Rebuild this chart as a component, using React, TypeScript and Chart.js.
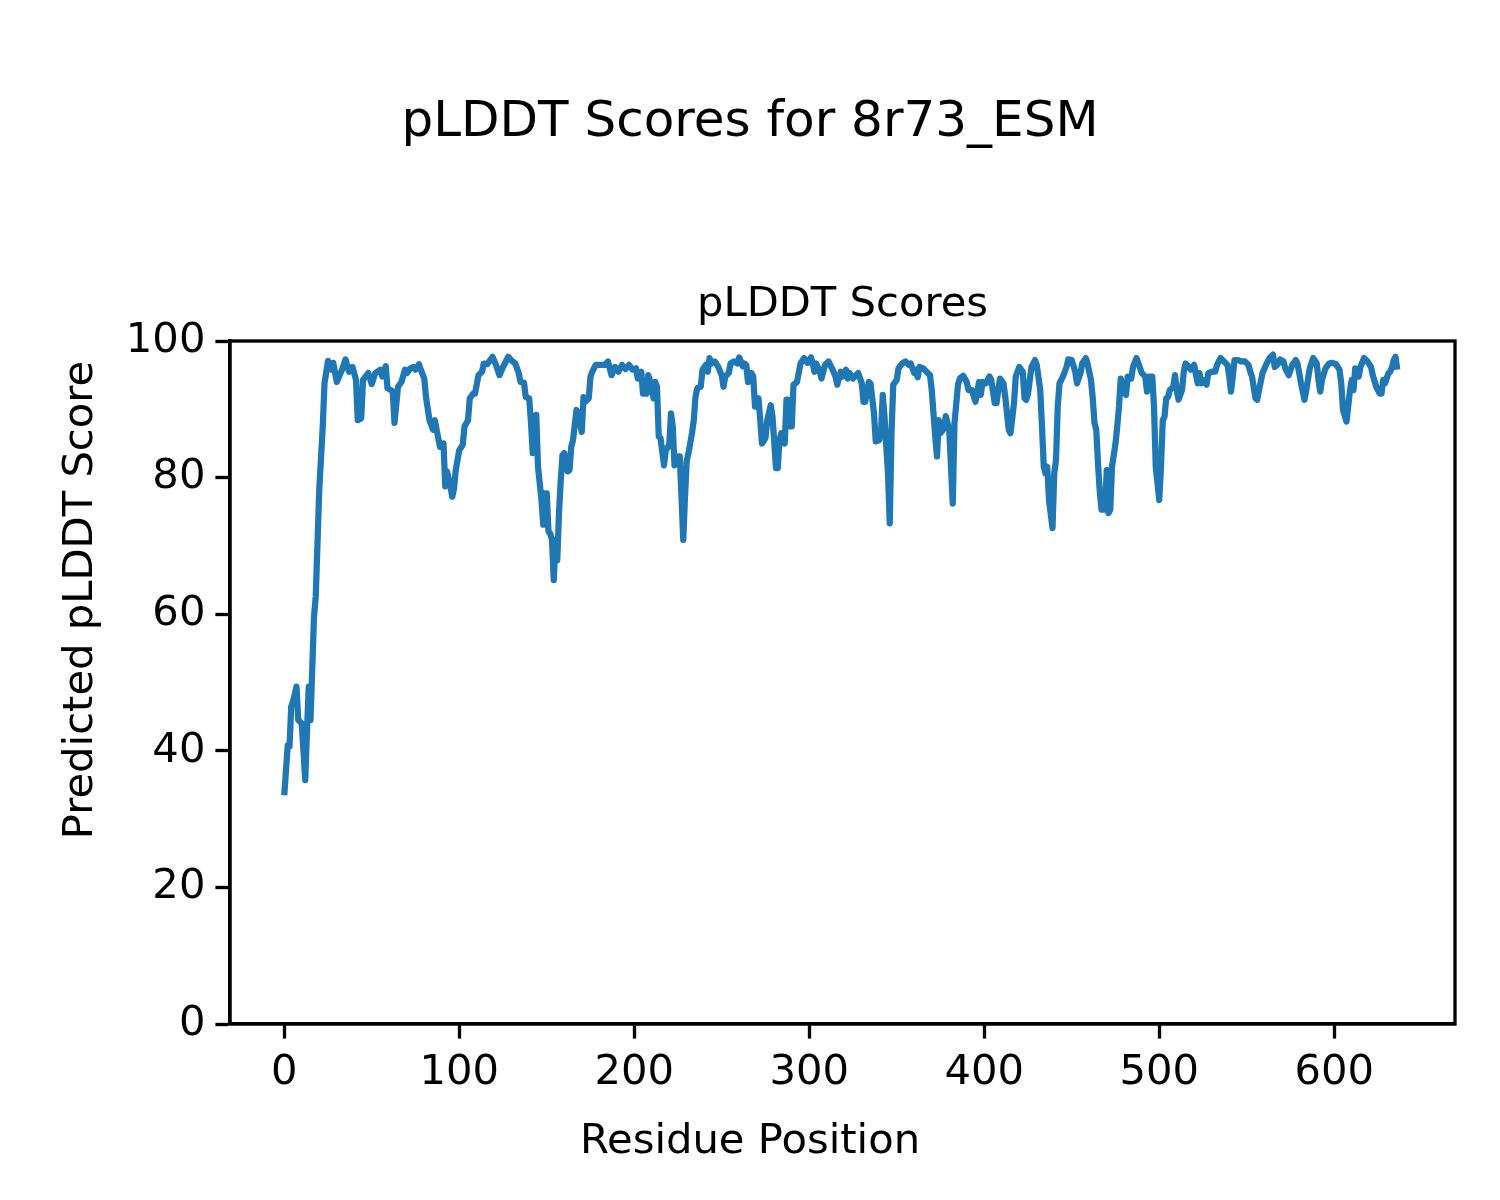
import React, { useEffect, useRef } from 'react';
import { Chart, registerables } from 'chart.js';

Chart.register(...registerables);

const residues = [
  0, 2, 3, 4, 5, 7, 8, 10, 12, 13, 14, 15, 17, 18, 20, 22, 23, 25, 27, 28, 30, 33, 35, 37, 39, 41, 42, 44, 45, 48,
  50, 52, 55, 56, 58, 59, 61, 62, 63, 65, 67, 69, 70, 72, 74, 75, 77, 78, 80, 81, 83, 85, 86, 88, 89, 91, 92, 93, 95, 96,
  97, 98, 100, 102, 103, 105, 106, 108, 109, 111, 113, 114, 116, 119, 121, 123, 125, 128, 130, 132, 134, 135, 137, 138, 140, 141, 142, 143, 144, 145,
  147, 148, 149, 150, 151, 152, 153, 154, 155, 156, 157, 158, 159, 160, 162, 163, 164, 165, 167, 168, 170, 171, 172, 174, 175, 176, 178, 181, 183, 185,
  187, 189, 191, 193, 195, 197, 199, 201, 202, 204, 205, 207, 208, 210, 211, 212, 213, 214, 215, 217, 218, 220, 221, 222, 223, 225, 226, 227, 228, 229,
  230, 231, 233, 234, 235, 236, 238, 239, 241, 242, 243, 244, 246, 248, 250, 251, 252, 254, 255, 257, 259, 260, 262, 263, 264, 265, 267, 268, 269, 270,
  271, 272, 273, 275, 276, 278, 279, 281, 282, 283, 284, 286, 287, 288, 289, 290, 291, 293, 295, 297, 299, 301, 302, 303, 304, 306, 307, 309, 311, 313,
  315, 316, 318, 319, 321, 322, 323, 325, 326, 328, 330, 331, 332, 334, 335, 337, 338, 340, 341, 342, 343, 345, 346, 347, 348, 350, 351, 353, 355, 357,
  358, 360, 361, 362, 363, 365, 367, 369, 370, 371, 372, 373, 374, 375, 377, 378, 380, 381, 382, 383, 385, 386, 388, 390, 391, 393, 394, 395, 397, 398,
  399, 401, 403, 404, 406, 407, 408, 409, 411, 412, 414, 415, 417, 418, 420, 422, 423, 424, 425, 427, 429, 430, 432, 433, 434, 435, 436, 437, 439, 440,
  441, 442, 443, 445, 447, 448, 450, 452, 453, 455, 456, 458, 459, 461, 462, 463, 464, 465, 466, 467, 469, 470, 471, 472, 473, 475, 476, 477, 478, 480,
  481, 482, 484, 485, 487, 488, 490, 492, 493, 494, 496, 497, 498, 500, 501, 502, 503, 504, 505, 506, 508, 509, 510, 511, 513, 514, 515, 517, 518, 520,
  521, 522, 523, 524, 525, 527, 528, 530, 532, 533, 535, 537, 539, 540, 541, 542, 543, 545, 547, 549, 551, 552, 553, 555, 556, 557, 559, 561, 563, 565,
  566, 568, 569, 571, 572, 574, 576, 578, 579, 580, 581, 583, 584, 586, 588, 590, 591, 592, 593, 595, 597, 599, 601, 603, 604, 605, 607, 609, 610, 611,
  612, 614, 615, 617, 619, 621, 622, 624, 626, 627, 628, 629, 631, 632, 633, 634, 635, 636,
];

const scores = [
  33.5, 40.8, 40.6, 46.5, 47.2, 49.4, 44.5, 44.0, 35.7, 43.0, 49.4, 44.5, 59.6, 62.6, 78.2, 87.5, 93.8, 97.1, 95.8, 96.8, 94.0, 95.8, 97.3, 95.5, 96.2, 94.3, 88.4, 88.7, 94.3, 95.3,
  93.7, 95.3, 95.8, 94.8, 96.3, 93.1, 92.8, 92.6, 88.0, 93.3, 94.0, 95.8, 95.3, 96.0, 96.2, 95.8, 96.6, 95.8, 94.5, 91.8, 88.4, 87.0, 88.4, 85.8, 84.5, 85.0, 78.7, 80.9, 78.7, 77.2,
  78.4, 81.1, 84.0, 84.8, 87.5, 88.4, 91.6, 92.3, 92.3, 95.0, 95.5, 96.7, 96.6, 97.7, 96.5, 95.0, 96.2, 97.7, 97.1, 96.7, 95.3, 94.0, 93.9, 91.8, 91.6, 88.0, 83.6, 86.5, 89.2, 81.6,
  76.7, 73.1, 77.7, 77.7, 72.1, 71.8, 70.9, 65.0, 70.9, 67.9, 74.8, 79.6, 83.3, 83.6, 80.9, 81.1, 84.5, 85.5, 89.9, 89.4, 86.7, 91.8, 91.1, 91.6, 94.8, 95.5, 96.5, 96.5, 96.5, 97.0,
  95.0, 96.2, 95.5, 96.5, 95.9, 96.5, 95.8, 96.0, 94.5, 95.5, 92.3, 92.3, 95.0, 93.3, 91.6, 94.0, 93.3, 86.0, 85.8, 81.8, 84.0, 84.8, 89.4, 87.5, 81.8, 83.1, 83.1, 77.2, 70.9, 77.2,
  82.5, 83.6, 86.5, 88.4, 91.8, 93.1, 93.3, 95.8, 96.5, 95.5, 97.5, 96.7, 97.0, 96.2, 95.0, 93.3, 94.8, 95.3, 96.7, 97.0, 96.7, 97.6, 96.3, 96.7, 96.5, 94.0, 95.3, 94.8, 90.4, 90.4,
  91.6, 88.4, 85.0, 85.8, 88.4, 90.6, 88.9, 81.4, 81.4, 85.5, 86.5, 85.0, 91.4, 91.4, 87.5, 87.5, 93.6, 94.0, 96.7, 97.5, 96.8, 97.6, 96.7, 95.5, 96.7, 95.5, 94.5, 96.5, 97.0, 96.0,
  94.8, 93.6, 95.5, 94.8, 95.8, 94.5, 95.3, 94.5, 94.8, 95.3, 93.8, 91.1, 91.1, 94.0, 93.8, 89.4, 85.3, 85.5, 86.5, 92.1, 88.9, 80.6, 73.3, 86.5, 93.6, 94.3, 96.0, 96.7, 97.0, 96.5,
  96.7, 95.3, 95.8, 94.7, 96.2, 96.0, 95.5, 95.0, 92.8, 89.4, 86.0, 83.1, 88.4, 86.5, 87.2, 89.0, 87.0, 81.6, 76.2, 88.0, 93.6, 94.5, 94.9, 94.0, 92.8, 92.8, 91.9, 91.1, 94.0, 92.1,
  94.0, 93.8, 94.8, 94.3, 90.9, 90.9, 92.8, 94.5, 93.8, 91.8, 87.0, 86.5, 90.9, 94.8, 96.2, 95.5, 91.6, 91.4, 92.3, 96.2, 97.2, 96.5, 92.8, 87.5, 81.6, 80.6, 81.6, 76.7, 72.6, 80.6,
  82.6, 90.4, 93.8, 94.8, 96.2, 97.3, 97.2, 95.5, 93.8, 95.3, 96.7, 97.5, 96.7, 94.3, 91.6, 88.0, 87.0, 82.1, 78.0, 75.3, 75.3, 81.1, 74.8, 75.3, 81.6, 85.0, 87.5, 90.4, 94.5, 92.8,
  92.1, 94.8, 94.5, 96.2, 97.5, 96.8, 95.3, 94.8, 92.6, 94.8, 94.8, 90.4, 81.6, 76.7, 81.6, 88.4, 88.9, 91.6, 91.8, 92.8, 93.3, 95.0, 92.8, 91.4, 92.8, 95.5, 96.7, 96.2, 95.8, 96.5,
  95.0, 93.8, 95.3, 93.8, 94.3, 93.6, 95.3, 95.5, 95.5, 96.5, 97.5, 97.0, 96.5, 94.8, 92.6, 94.8, 97.2, 97.2, 97.0, 97.0, 96.5, 95.5, 94.8, 91.6, 91.4, 92.8, 95.3, 96.5, 97.5, 98.0,
  96.2, 96.7, 97.3, 97.0, 96.0, 95.0, 96.5, 97.2, 96.7, 95.3, 93.8, 91.4, 92.8, 96.0, 97.5, 96.7, 94.3, 92.6, 94.3, 96.0, 96.7, 96.8, 96.6, 95.8, 93.8, 89.9, 88.2, 92.8, 94.3, 92.8,
  96.0, 94.8, 96.2, 97.5, 97.0, 96.2, 95.0, 93.3, 92.3, 92.3, 94.3, 93.8, 95.3, 95.5, 96.2, 97.2, 97.7, 95.8,
];

const xTicks = [0, 100, 200, 300, 400, 500, 600];
const yTicks = [0, 20, 40, 60, 80, 100];

const figureTitle = 'pLDDT Scores for 8r73_ESM';
const axesTitle = 'pLDDT Scores';
const xLabel = 'Residue Position';
const yLabel = 'Predicted pLDDT Score';

const FONT = '"DejaVu Sans", "Liberation Sans", sans-serif';

export default function App() {
  const ref = useRef<HTMLCanvasElement>(null);

  useEffect(() => {
    if (!ref.current) return;

    const textPlugin = {
      id: 'figureTexts',
      afterDraw(chart: any) {
        const { ctx, chartArea: a } = chart;
        ctx.save();
        ctx.strokeStyle = '#000';
        ctx.lineWidth = 3.33;
        ctx.strokeRect(a.left, a.top, a.right - a.left, a.bottom - a.top);
        ctx.fillStyle = '#000';
        ctx.textAlign = 'center';
        ctx.textBaseline = 'alphabetic';
        ctx.font = `50px ${FONT}`;
        ctx.fillText(figureTitle, 750, 136);
        ctx.font = `41.7px ${FONT}`;
        ctx.fillText(axesTitle, (a.left + a.right) / 2, a.top - 25);
        ctx.fillText(xLabel, 750, 1153);
        ctx.translate(92, 600);
        ctx.rotate(-Math.PI / 2);
        ctx.fillText(yLabel, 0, 0);
        ctx.restore();
      },
    };

    const axisCommon = {
      type: 'linear' as const,
      ticks: {
        font: { family: FONT, size: 41.7 },
        color: '#000',
        padding: 10,
        maxRotation: 0,
        autoSkip: false,
      },
      grid: {
        display: true,
        drawOnChartArea: false,
        drawTicks: true,
        tickLength: 14.6,
        tickWidth: 3.33,
        tickColor: '#000',
      },
      border: { display: true, color: '#000', width: 3.33 },
    };

    const chart = new Chart(ref.current, {
      type: 'line',
      data: {
        datasets: [
          {
            data: residues.map((r, i) => ({ x: r, y: scores[i] })),
            borderColor: '#1f77b4',
            borderWidth: 6.25,
            pointRadius: 0,
            tension: 0,
            fill: false,
            borderJoinStyle: 'round',
            borderCapStyle: 'butt',
          },
        ],
      },
      options: {
        responsive: false,
        devicePixelRatio: 1,
        animation: false,
        layout: { padding: { top: 341, right: 45, bottom: 0, left: 0 } },
        plugins: {
          legend: { display: false },
          tooltip: { enabled: false },
          title: { display: false },
        },
        scales: {
          x: {
            ...axisCommon,
            position: 'bottom',
            min: -31,
            max: 669,
            afterBuildTicks: (s: any) => {
              s.ticks = xTicks.map((v) => ({ value: v }));
            },
            afterFit: (s: any) => {
              s.height = 176;
            },
          },
          y: {
            ...axisCommon,
            position: 'left',
            min: 0,
            max: 100,
            afterBuildTicks: (s: any) => {
              s.ticks = yTicks.map((v) => ({ value: v }));
            },
            afterFit: (s: any) => {
              s.width = 230;
            },
          },
        },
      } as any,
      plugins: [textPlugin],
    });

    return () => chart.destroy();
  }, []);

  return (
    <div style={{ position: 'fixed', left: 0, top: 0, width: 1500, height: 1200, background: '#fff' }}>
      <canvas ref={ref} width={1500} height={1200} style={{ width: 1500, height: 1200, display: 'block' }} />
    </div>
  );
}
